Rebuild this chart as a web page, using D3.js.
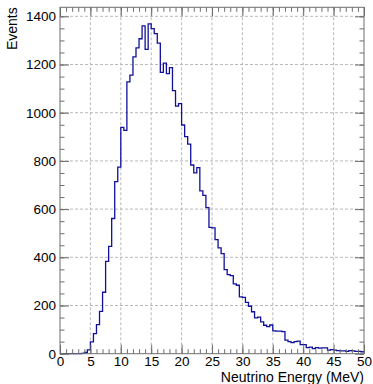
<!DOCTYPE html>
<html>
<head>
<meta charset="utf-8">
<script src="https://cdn.jsdelivr.net/npm/d3@7"></script>
<style>
    body { margin: 0; background: #fff; }
    text { font-family: "Liberation Sans", Arial, sans-serif; fill: #000; }
</style>
</head>
<body>
<div id="chart"></div>
<script>
// Energy histogram: 100 bins of 0.5 MeV from 0 to 50 MeV
const energyMin = 0;
const energyMax = 50;
const binWidth = 0.5;

// Events per bin
const counts = [
    0, 0, 0, 0, 0, 0, 0, 1, 5, 16,
    49, 83, 121, 176, 255, 383, 445, 561, 714, 774,
    939, 927, 1128, 1156, 1232, 1269, 1307, 1360, 1263, 1369,
    1349, 1328, 1289, 1167, 1206, 1162, 1187, 1092, 1027, 1038,
    949, 901, 870, 783, 750, 772, 676, 657, 606, 524,
    522, 473, 439, 415, 349, 328, 324, 290, 284, 236,
    234, 213, 197, 174, 149, 152, 132, 118, 112, 119,
    95, 94, 94, 92, 56, 50, 46, 50, 52, 38,
    38, 25, 27, 21, 25, 23, 24, 24, 15, 17,
    15, 13, 12, 12, 10, 13, 12, 10, 10, 8
];

const xTicks = [0, 5, 10, 15, 20, 25, 30, 35, 40, 45, 50];
const xMinorTicks = d3.range(0, 51, 1);
const yTicks = [0, 200, 400, 600, 800, 1000, 1200, 1400];
const yMinorTicks = d3.range(0, 1401, 50);

const xTitle = "Neutrino Energy (MeV)";
const yTitle = "Events";

const W = 373, H = 384;
const margin = { top: 7.3, right: 9, bottom: 30.3, left: 60 };
const width = W - margin.left - margin.right;
const height = H - margin.top - margin.bottom;
const labelSize = '13.5px';

// ROOT style: leave 5% headroom above the tallest bin
let yMax = 1.05 * d3.max(counts);

let xScale = d3.scaleLinear().domain([energyMin, energyMax]).range([0, width]);
let yScale = d3.scaleLinear().domain([0, yMax]).range([height, 0]);

let svg = d3.select('#chart')
    .append('svg')
    .attr('width', W)
    .attr('height', H)
    .append('g')
    .attr('transform', `translate(${margin.left}, ${margin.top})`);

// dashed grid
svg.append('g')
    .selectAll('line')
    .data(xTicks.filter(d => d > energyMin && d < energyMax))
    .enter()
    .append('line')
    .attr('x1', d => xScale(d)).attr('x2', d => xScale(d))
    .attr('y1', 0).attr('y2', height)
    .attr('stroke', '#b9b9b9')
    .attr('stroke-dasharray', '3,2');
svg.append('g')
    .selectAll('line')
    .data(yTicks.filter(d => d > 0))
    .enter()
    .append('line')
    .attr('y1', d => yScale(d)).attr('y2', d => yScale(d))
    .attr('x1', 0).attr('x2', width)
    .attr('stroke', '#b9b9b9')
    .attr('stroke-dasharray', '3,2');

// histogram outline
let points = counts.map((c, i) => [energyMin + i * binWidth, c]);
points.unshift([energyMin, 0]);
points.push([energyMax, counts[counts.length - 1]]);

let stepLine = d3.line()
    .x(d => xScale(d[0]))
    .y(d => yScale(d[1]))
    .curve(d3.curveStepAfter);

svg.append('path')
    .datum(points)
    .attr('fill', 'none')
    .attr('stroke', '#10109c')
    .attr('stroke-width', 1.3)
    .attr('d', stepLine);

// axes with inward ticks on all four sides
const axisColor = '#6e6e6e';
const majorLen = 9, minorLen = 4.5;

function styleAxis(g) {
    g.select('.domain').remove();
    g.selectAll('line').attr('stroke', axisColor);
}

svg.append('g')
    .attr('transform', `translate(0, ${height})`)
    .call(d3.axisBottom(xScale).tickValues(xMinorTicks).tickSize(-minorLen).tickFormat(''))
    .call(styleAxis);
svg.append('g')
    .attr('transform', `translate(0, ${height})`)
    .call(d3.axisBottom(xScale).tickValues(xTicks).tickSize(-majorLen).tickPadding(3).tickFormat(d3.format('d')))
    .call(styleAxis)
    .selectAll('text').style('font-size', labelSize);
svg.append('g')
    .call(d3.axisTop(xScale).tickValues(xMinorTicks).tickSize(-minorLen).tickFormat(''))
    .call(styleAxis);
svg.append('g')
    .call(d3.axisTop(xScale).tickValues(xTicks).tickSize(-majorLen).tickFormat(''))
    .call(styleAxis);

svg.append('g')
    .call(d3.axisLeft(yScale).tickValues(yMinorTicks).tickSize(-minorLen).tickFormat(''))
    .call(styleAxis);
svg.append('g')
    .call(d3.axisLeft(yScale).tickValues(yTicks).tickSize(-majorLen).tickPadding(4).tickFormat(d3.format('d')))
    .call(styleAxis)
    .selectAll('text').style('font-size', labelSize);
svg.append('g')
    .attr('transform', `translate(${width}, 0)`)
    .call(d3.axisRight(yScale).tickValues(yMinorTicks).tickSize(-minorLen).tickFormat(''))
    .call(styleAxis);
svg.append('g')
    .attr('transform', `translate(${width}, 0)`)
    .call(d3.axisRight(yScale).tickValues(yTicks).tickSize(-majorLen).tickFormat(''))
    .call(styleAxis);

// frame
svg.append('rect')
    .attr('width', width)
    .attr('height', height)
    .attr('fill', 'none')
    .attr('stroke', axisColor);

// axis titles
svg.append('text')
    .attr('x', width)
    .attr('y', height + 28.8)
    .attr('text-anchor', 'end')
    .style('font-size', '14px')
    .text(xTitle);

svg.append('text')
    .attr('transform', `translate(${17 - margin.left}, 0) rotate(-90)`)
    .attr('text-anchor', 'end')
    .style('font-size', '14px')
    .text(yTitle);
</script>
</body>
</html>
